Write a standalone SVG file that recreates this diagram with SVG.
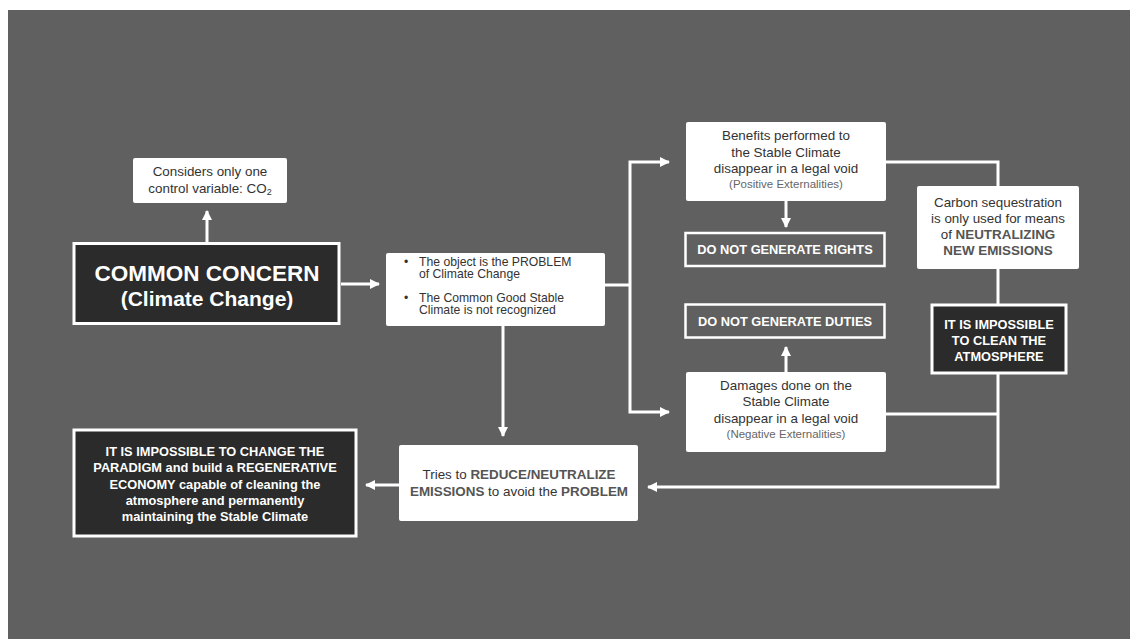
<svg xmlns="http://www.w3.org/2000/svg" width="1130" height="639" viewBox="0 0 1130 639">
<defs>
<marker id="arr" markerWidth="10" markerHeight="10" refX="9" refY="5" orient="auto" markerUnits="userSpaceOnUse">
<path d="M0,0 L10,5 L0,10 z" fill="#ffffff"/>
</marker>
<style>
text{font-family:"Liberation Sans",Arial,sans-serif;}
.wb{fill:#ffffff;}
.db{fill:#2a2b2a;stroke:#ffffff;stroke-width:3;}
.ob{fill:none;stroke:#ffffff;stroke-width:2.5;}
.t{font-size:13.4px;fill:#333333;text-anchor:middle;}
.s{font-size:11.5px;fill:#666666;text-anchor:middle;}
.bg{font-weight:bold;fill:#555555;}
.wt{font-size:12.8px;font-weight:bold;fill:#ffffff;text-anchor:middle;}
.bl{font-size:12.2px;fill:#333333;}
.c{fill:none;stroke:#ffffff;stroke-width:3;}
</style>
</defs>
<rect x="0" y="0" width="1130" height="639" fill="#ffffff"/>
<rect x="8" y="10" width="1122" height="629" fill="#606060"/>

<g id="connectors">
<path class="c" d="M207,242 V211" marker-end="url(#arr)"/>
<path class="c" d="M341,284 H379" marker-end="url(#arr)"/>
<path class="c" d="M605,285 H630"/>
<path class="c" d="M630,285 V162 H669" marker-end="url(#arr)"/>
<path class="c" d="M630,285 V412 H669" marker-end="url(#arr)"/>
<path class="c" d="M786,201 V227" marker-end="url(#arr)"/>
<path class="c" d="M786,372 V347" marker-end="url(#arr)"/>
<path class="c" d="M886,162 H998 V186"/>
<path class="c" d="M998,269 V305"/>
<path class="c" d="M998,373 V487 H648" marker-end="url(#arr)"/>
<path class="c" d="M886,414 H998"/>
<path class="c" d="M503,326 V436" marker-end="url(#arr)"/>
<path class="c" d="M399,485 H366" marker-end="url(#arr)"/>
</g>

<g id="node-co2">
<rect class="wb" x="133" y="158" width="154" height="45" rx="2"/>
<text class="t" x="210" y="176" font-size="13">Considers only one</text>
<text class="t" x="210" y="193" font-size="13">control variable: CO<tspan font-size="9" dy="2">2</tspan></text>
</g>

<g id="node-common-concern">
<rect class="db" x="74" y="243.5" width="265" height="80"/>
<text x="207" y="281" font-size="22.5" font-weight="bold" fill="#ffffff" text-anchor="middle">COMMON CONCERN</text>
<text x="207" y="306" font-size="21" font-weight="bold" fill="#ffffff" text-anchor="middle">(Climate Change)</text>
</g>

<g id="node-object">
<rect class="wb" x="386" y="253" width="219" height="73" rx="2"/>
<text class="bl" x="404" y="265.5">•</text>
<text class="bl" x="419" y="265.5">The object is the PROBLEM</text>
<text class="bl" x="419" y="278">of Climate Change</text>
<text class="bl" x="404" y="301.5">•</text>
<text class="bl" x="419" y="301.5">The Common Good Stable</text>
<text class="bl" x="419" y="314">Climate is not recognized</text>
</g>

<g id="node-benefits">
<rect class="wb" x="686" y="122" width="200" height="79" rx="2"/>
<text class="t" x="786" y="140">Benefits performed to</text>
<text class="t" x="786" y="156.5">the Stable Climate</text>
<text class="t" x="786" y="173">disappear in a legal void</text>
<text class="s" x="786" y="187.5">(Positive Externalities)</text>
</g>

<g id="node-rights">
<rect class="ob" x="685.5" y="233" width="199" height="33"/>
<text class="wt" x="785" y="254">DO NOT GENERATE RIGHTS</text>
</g>

<g id="node-duties">
<rect class="ob" x="685.5" y="304.5" width="199" height="33"/>
<text class="wt" x="785" y="325.5">DO NOT GENERATE DUTIES</text>
</g>

<g id="node-damages">
<rect class="wb" x="686" y="372" width="200" height="80" rx="2"/>
<text class="t" x="786" y="390">Damages done on the</text>
<text class="t" x="786" y="406">Stable Climate</text>
<text class="t" x="786" y="422.5">disappear in a legal void</text>
<text class="s" x="786" y="437.5">(Negative Externalities)</text>
</g>

<g id="node-carbon">
<rect class="wb" x="917" y="186" width="162" height="83" rx="2"/>
<text class="t" x="998" y="207">Carbon sequestration</text>
<text class="t" x="998" y="223">is only used for means</text>
<text class="t" x="998" y="239">of <tspan class="bg">NEUTRALIZING</tspan></text>
<text class="t" x="998" y="255"><tspan class="bg">NEW EMISSIONS</tspan></text>
</g>

<g id="node-clean">
<rect class="db" x="932" y="305" width="134" height="68"/>
<text class="wt" x="999" y="328.5">IT IS IMPOSSIBLE</text>
<text class="wt" x="999" y="344.5">TO CLEAN THE</text>
<text class="wt" x="999" y="360.5">ATMOSPHERE</text>
</g>

<g id="node-reduce">
<rect class="wb" x="399" y="445" width="239" height="76" rx="2"/>
<text class="t" x="519" y="479" font-size="13">Tries to <tspan class="bg">REDUCE/NEUTRALIZE</tspan></text>
<text class="t" x="519" y="496" font-size="13"><tspan class="bg">EMISSIONS</tspan> to avoid the <tspan class="bg">PROBLEM</tspan></text>
</g>

<g id="node-paradigm">
<rect class="db" x="74" y="430" width="282" height="106"/>
<text class="wt" x="215" y="456">IT IS IMPOSSIBLE TO CHANGE THE</text>
<text class="wt" x="215" y="472">PARADIGM and build a REGENERATIVE</text>
<text class="wt" x="215" y="488.5">ECONOMY capable of cleaning the</text>
<text class="wt" x="215" y="504.5">atmosphere and permanently</text>
<text class="wt" x="215" y="521">maintaining the Stable Climate</text>
</g>
</svg>
